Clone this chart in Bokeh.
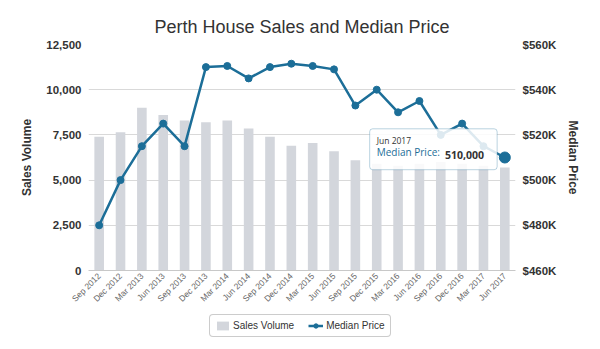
from bokeh.plotting import figure
from bokeh.layouts import column
from bokeh.models import (Range1d, LinearAxis, FixedTicker, NumeralTickFormatter,
                          CustomJSTickFormatter, FactorRange, Legend, LegendItem,
                          BoxAnnotation, Label, Title, ColumnDataSource)
from bokeh.embed import file_html
from bokeh.resources import INLINE

quarters = ["Sep 2012", "Dec 2012", "Mar 2013", "Jun 2013", "Sep 2013", "Dec 2013",
            "Mar 2014", "Jun 2014", "Sep 2014", "Dec 2014", "Mar 2015", "Jun 2015",
            "Sep 2015", "Dec 2015", "Mar 2016", "Jun 2016", "Sep 2016", "Dec 2016",
            "Mar 2017", "Jun 2017"]
sales_volume = [7400, 7650, 9000, 8600, 8300, 8200, 8300, 7850, 7400, 6900,
                7050, 6600, 6100, 5900, 5800, 5900, 6000, 5900, 5800, 5700]
median_price = [480000, 500000, 515000, 525000, 515000, 550000, 550500, 545000,
                550000, 551500, 550500, 549000, 533000, 540000, 530000, 535000,
                520000, 525000, 515000, 510000]
sales_ticks = [0, 2500, 5000, 7500, 10000, 12500]
price_ticks = [460000, 480000, 500000, 520000, 540000, 560000]

LINE = "#1c6e98"
BAR = "#d3d6dc"
FONT = "Liberation Sans"

src = ColumnDataSource(dict(q=quarters, s=sales_volume, p=median_price))

p = figure(frame_width=427, frame_height=226, x_range=FactorRange(factors=quarters),
           y_range=Range1d(0, 12500), output_backend="svg", toolbar_location=None,
           min_border_left=88, min_border_right=85, min_border_top=44,
           min_border_bottom=40)
p.title = None
p.add_layout(Title(text="Perth House Sales and Median Price", align="center",
                   text_font=FONT, text_font_size="18px", text_font_style="normal",
                   text_color="#333333", standoff=16), "above")
p.outline_line_color = None
p.background_fill_color = "white"
p.border_fill_color = "white"

p.extra_y_ranges = {"price": Range1d(460000, 560000)}

bars = p.vbar(x="q", top="s", width=0.45, source=src, fill_color=BAR, line_color=None)
line = p.line(x="q", y="p", source=src, line_color=LINE, line_width=2.5,
              y_range_name="price")
pts = p.scatter(x="q", y="p", source=src, size=7, fill_color=LINE, line_color=LINE,
                y_range_name="price")

# hovered last point
last = len(quarters) - 1
p.scatter(x=[quarters[last]], y=[median_price[last]], size=11, fill_color=LINE,
          line_color=LINE, y_range_name="price")

# axes
p.xgrid.grid_line_color = None
p.ygrid.ticker = FixedTicker(ticks=sales_ticks)
p.ygrid.grid_line_color = "#d9d9d9"
p.ygrid.grid_line_width = 1

ya = p.yaxis[0]
ya.ticker = FixedTicker(ticks=sales_ticks)
ya.formatter = NumeralTickFormatter(format="0,0")
ya.axis_label = "Sales Volume"

ra = LinearAxis(y_range_name="price", ticker=FixedTicker(ticks=price_ticks),
                formatter=CustomJSTickFormatter(code="return '$' + (tick/1000).toFixed(0) + 'K';"),
                axis_label="Median Price")
p.add_layout(ra, "right")

for ax in (ya, ra):
    ax.axis_line_color = None
    ax.major_tick_line_color = None
    ax.minor_tick_line_color = None
    ax.major_tick_out = 0
    ax.major_tick_in = 0
    ax.minor_tick_out = 0
    ax.major_label_text_font = FONT
    ax.major_label_text_font_size = "11.5px"
    ax.major_label_text_font_style = "bold"
    ax.major_label_text_color = "#333333"
    ax.major_label_standoff = 7
    ax.axis_label_text_font = FONT
    ax.axis_label_text_font_size = "12px"
    ax.axis_label_text_font_style = "bold"
    ax.axis_label_text_color = "#333333"
ya.axis_label_standoff = 9
ra.axis_label_standoff = 7

xa = p.xaxis[0]
xa.axis_line_color = "#c8c8c8"
xa.major_tick_line_color = None
xa.minor_tick_line_color = None
xa.major_tick_out = 0
xa.major_tick_in = 0
xa.minor_tick_out = 0
xa.major_label_orientation = 0.785398
xa.major_label_text_font = FONT
xa.major_label_text_font_size = "8.5px"
xa.major_label_text_color = "#666666"
xa.major_label_standoff = 4

# tooltip annotation for the last point
cx = last + 0.5
tp = median_price[last]
box = BoxAnnotation(left=cx - 6.33, right=cx - 0.36, top=tp + 12700, bottom=tp - 5400,
                    y_range_name="price", fill_color="white", fill_alpha=0.85,
                    line_color=LINE, line_width=1, level="overlay")
try:
    box.border_radius = 3
except Exception:
    pass
p.add_layout(box)

p.add_layout(Label(x=cx - 6.0, y=tp + 4900, y_range_name="price", text=quarters[last],
                   text_font="Open Sans", text_font_size="8.5px", text_color="#333333",
                   level="overlay"))
p.add_layout(Label(x=cx - 6.0, y=tp - 600, y_range_name="price", text="Median Price: ",
                   text_font="Open Sans", text_font_size="10px", text_color=LINE,
                   level="overlay"))
p.add_layout(Label(x=cx - 2.80, y=tp - 600, y_range_name="price",
                   text=f"{median_price[last]:,}",
                   text_font="Open Sans", text_font_size="10.5px", text_font_style="bold",
                   text_color="#333333", level="overlay"))

# legend strip below the chart (its renderers sit outside the visible range)
lg = figure(width=600, height=39, x_range=Range1d(0, 1), y_range=Range1d(0, 1),
            output_backend="svg", toolbar_location=None, x_axis_type=None,
            y_axis_type=None, min_border=0)
lg.outline_line_color = None
lg.xgrid.visible = False
lg.ygrid.visible = False
lg_bar = lg.vbar(x=[-5], top=[-5], bottom=[-6], width=0.45, fill_color=BAR, line_color=None)
lg_line = lg.line(x=[-5, -4], y=[-5, -5], line_color=LINE, line_width=2.5)
lg_pts = lg.scatter(x=[-5], y=[-5], size=7, fill_color=LINE, line_color=LINE)

legend = Legend(items=[LegendItem(label="Sales Volume", renderers=[lg_bar]),
                       LegendItem(label="Median Price", renderers=[lg_line, lg_pts])],
                orientation="horizontal", location=(121, 12),
                label_text_font=FONT, label_text_font_size="10px",
                label_text_color="#333333", glyph_width=15, glyph_height=11,
                label_height=11, label_standoff=3, spacing=14, padding=5,
                margin=0, border_line_color="#999999", border_line_width=1,
                background_fill_color="white", background_fill_alpha=1)
try:
    legend.border_radius = 4
except Exception:
    pass
lg.add_layout(legend, "center")

layout = column(p, lg, spacing=0)
open("out.html", "w").write(file_html(layout, INLINE))
